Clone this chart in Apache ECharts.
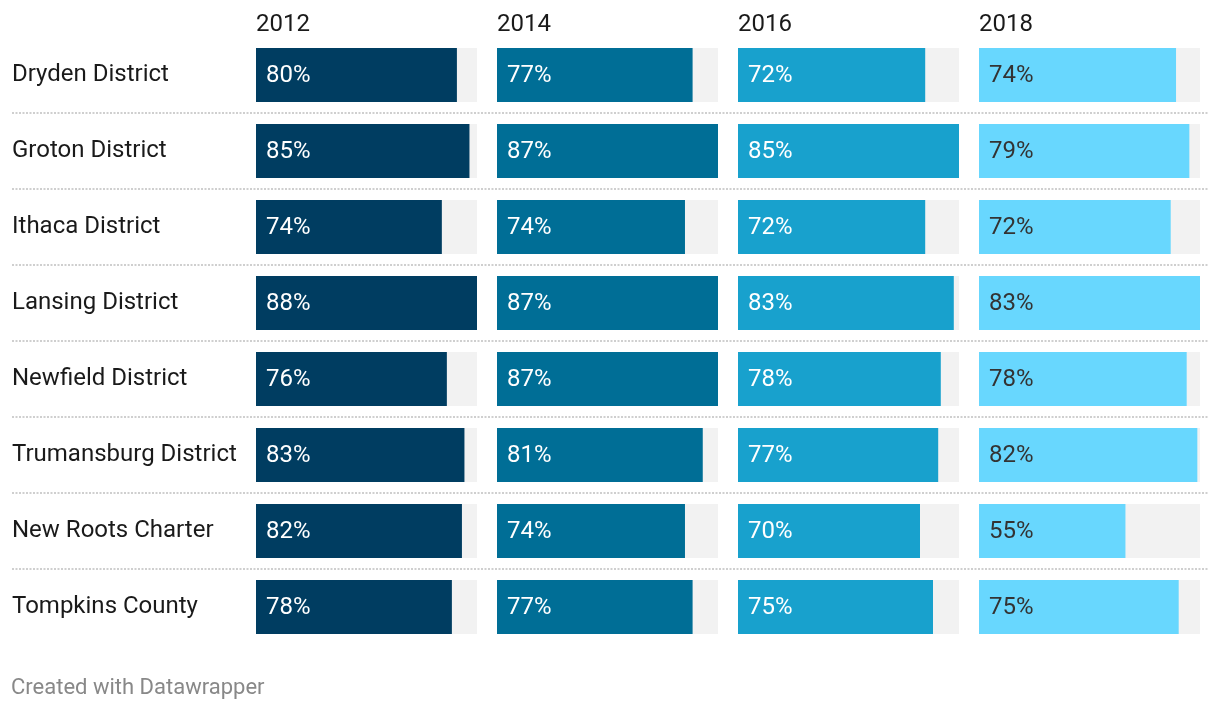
<!DOCTYPE html>
<html>
<head>
<meta charset="utf-8">
<script src="https://cdn.jsdelivr.net/npm/echarts@6/dist/echarts.min.js"></script>
<style>
html,body{margin:0;padding:0;background:#fff;}
#chart{width:1220px;height:710px;}
</style>
</head>
<body>
<div id="chart"></div>
<script>
const categories = ['Dryden District','Groton District','Ithaca District','Lansing District','Newfield District','Trumansburg District','New Roots Charter','Tompkins County'];
const years = ['2012','2014','2016','2018'];
const v2012 = [80,85,74,88,76,83,82,78];
const v2014 = [77,87,74,87,87,81,74,77];
const v2016 = [72,85,72,83,78,77,70,75];
const v2018 = [74,79,72,83,78,82,55,75];
const seriesValues = [v2012, v2014, v2016, v2018];
const colors = ['#003d61','#006e96','#18a1cd','#68d7fe'];
const labelColors = ['#ffffff','#ffffff','#ffffff','#333333'];

const FONT = 'Roboto, "Noto Sans", sans-serif';
const colLefts = [256, 497, 738, 979];
const colWidth = 221;
const gridTop = 37, gridHeight = 608;

const grids = [], xAxes = [], yAxes = [], series = [], titles = [];
// background grid for row labels and dotted separators
grids.push({left: 12, right: 12, top: gridTop, height: gridHeight});
xAxes.push({type:'value', gridIndex:0, show:false, min:0, max:1});
yAxes.push({type:'category', gridIndex:0, data:categories, inverse:true,
  axisLine:{show:false}, axisTick:{show:false},
  axisLabel:{inside:true, margin:0, color:'#1a1a1a', fontSize:24, fontFamily:FONT, align:'left', padding:[2,0,0,0]},
  splitLine:{show:true, showMinLine:false, showMaxLine:false, lineStyle:{color:'#cfcfcf', width:2, type:[2,1.5]}}
});

seriesValues.forEach((vals, i) => {
  const gi = i + 1;
  grids.push({left: colLefts[i], width: colWidth, top: gridTop, height: gridHeight});
  xAxes.push({type:'value', gridIndex:gi, show:false, min:0, max:Math.max(...vals)});
  yAxes.push({type:'category', gridIndex:gi, data:categories, inverse:true, show:false});
  series.push({
    type:'bar', xAxisIndex:gi, yAxisIndex:gi, data:vals, barWidth:54,
    itemStyle:{color:colors[i]},
    showBackground:true, backgroundStyle:{color:'#f2f2f2'},
    label:{show:true, position:'insideLeft', distance:10, offset:[0,1], formatter:'{c}%', color:labelColors[i], fontSize:24, fontFamily:FONT},
    silent:true, animation:false
  });
  titles.push({text: years[i], left: colLefts[i], top: 13, padding:0, textStyle:{fontSize:24, fontWeight:'normal', color:'#1a1a1a', fontFamily:FONT}});
});
titles.push({text:'Created with Datawrapper', left:11, top:677, padding:0, textStyle:{fontSize:22, fontWeight:'normal', color:'#888888', fontFamily:FONT}});

const chart = echarts.init(document.getElementById('chart'), null, {renderer:'canvas'});
chart.setOption({
  animation:false,
  backgroundColor:'#ffffff',
  title: titles,
  grid: grids,
  xAxis: xAxes,
  yAxis: yAxes,
  series: series
});
</script>
</body>
</html>
